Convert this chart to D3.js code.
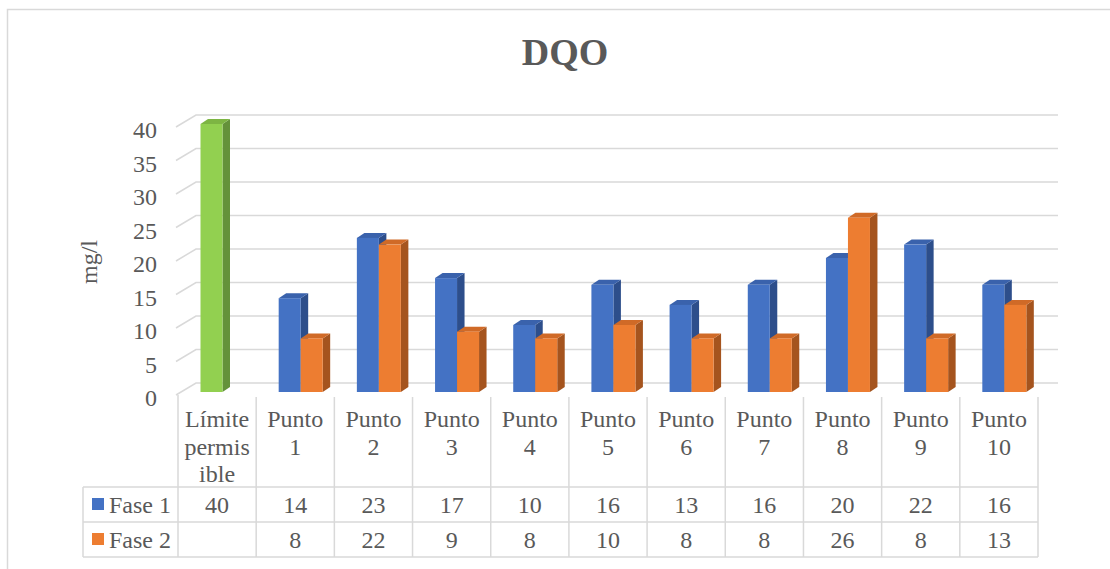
<!DOCTYPE html>
<html>
<head>
<meta charset="utf-8">
<script src="https://cdn.jsdelivr.net/npm/d3@7"></script>
<style>
  body { margin: 0; background: #fff; }
  svg text { font-family: "Liberation Serif", "Times New Roman", Times, serif; fill: #595959; }
</style>
</head>
<body>
<svg class="chart" font-family="Liberation Serif, Times New Roman, serif"></svg>
<script>
const width = 1110
const height = 569

const categories = ['Límite permisible', 'Punto 1', 'Punto 2', 'Punto 3', 'Punto 4', 'Punto 5',
  'Punto 6', 'Punto 7', 'Punto 8', 'Punto 9', 'Punto 10']
const categoryLines = [['Límite', 'permis', 'ible'], ['Punto', '1'], ['Punto', '2'], ['Punto', '3'],
  ['Punto', '4'], ['Punto', '5'], ['Punto', '6'], ['Punto', '7'], ['Punto', '8'], ['Punto', '9'], ['Punto', '10']]
const seriesNames = ['Fase 1', 'Fase 2']
const fase1 = [40, 14, 23, 17, 10, 16, 13, 16, 20, 22, 16]
const fase2 = [null, 8, 22, 9, 8, 10, 8, 8, 26, 8, 13]
const yTicks = [0, 5, 10, 15, 20, 25, 30, 35, 40]

const faces = {
  'Fase 1': { front: '#4472C4', top: '#3A62AC', side: '#2D4E8B' },
  'Fase 2': { front: '#ED7D31', top: '#D06A27', side: '#A5541E' },
  limit: { front: '#92D050', top: '#7DB543', side: '#64923A' }
}

const grid = '#d9d9d9'
const wall = { dx: 20, dy: 12 }
const barDepth = { dx: 7.5, dy: 5 }
const fontSize = 24

const x = d3.scaleBand().domain(categories).range([178, 1038])
const xs = d3.scaleBand().domain(seriesNames).range([22.5, 66.5])
const y = d3.scaleLinear().domain([0, 40]).range([395, 127])
const barY = v => y(v) - 3

const svg = d3.select('.chart').attr('width', width).attr('height', height)

// chart border
svg.append('path')
  .attr('d', `M7.5,${height}V9.5H${width}`)
  .attr('fill', 'none').attr('stroke', grid).attr('stroke-width', 1.5)

svg.append('text')
  .attr('x', 565).attr('y', 65)
  .attr('text-anchor', 'middle')
  .attr('font-size', 38).attr('font-weight', 'bold')
  .text('DQO')

// walls: side diagonals + back gridlines
const g = svg.append('g').attr('stroke', grid).attr('stroke-width', 1.5).attr('fill', 'none')
g.selectAll('path')
  .data(yTicks)
  .join('path')
  .attr('d', d => `M${x.range()[0] - 2},${y(d)}L${x.range()[0] + wall.dx - 2},${y(d) - wall.dy}H${x.range()[1] + wall.dx}`)

svg.append('g')
  .selectAll('text')
  .data(yTicks)
  .join('text')
  .attr('x', 157).attr('y', d => y(d) + 3)
  .attr('dy', '0.35em')
  .attr('text-anchor', 'end')
  .attr('font-size', fontSize)
  .text(d => d)

svg.append('text')
  .attr('transform', 'translate(89,262) rotate(-90)')
  .attr('dy', '0.35em')
  .attr('text-anchor', 'middle')
  .attr('font-size', fontSize)
  .text('mg/l')

// bars
const bars = []
categories.forEach((c, i) => {
  [fase1[i], fase2[i]].forEach((v, s) => {
    if (v == null) return
    bars.push({ cat: c, series: seriesNames[s], value: v, style: i === 0 ? faces.limit : faces[seriesNames[s]] })
  })
})

const bw = xs.bandwidth()
const bar = svg.append('g')
  .selectAll('g')
  .data(bars)
  .join('g')
  .attr('transform', d => `translate(${x(d.cat) + xs(d.series)},0)`)

bar.append('path')
  .attr('fill', d => d.style.side)
  .attr('d', d => {
    const t = barY(d.value), b = barY(0)
    return `M${bw},${t}L${bw + barDepth.dx},${t - barDepth.dy}V${b - barDepth.dy}L${bw},${b}Z`
  })
bar.append('path')
  .attr('fill', d => d.style.top)
  .attr('d', d => {
    const t = barY(d.value)
    return `M0,${t}L${barDepth.dx},${t - barDepth.dy}H${bw + barDepth.dx}L${bw},${t}Z`
  })
bar.append('rect')
  .attr('fill', d => d.style.front)
  .attr('y', d => barY(d.value))
  .attr('width', bw)
  .attr('height', d => barY(0) - barY(d.value))

// data table
const rowTop = [487, 522, 557]
const legendLeft = 83
const table = svg.append('g').attr('stroke', grid).attr('stroke-width', 1.5)
rowTop.forEach(r => {
  table.append('line').attr('x1', legendLeft).attr('x2', x.range()[1]).attr('y1', r).attr('y2', r)
})
table.append('line').attr('x1', legendLeft).attr('x2', legendLeft).attr('y1', rowTop[0]).attr('y2', rowTop[2])
table.append('line').attr('x1', x.range()[0]).attr('x2', x.range()[0]).attr('y1', 395).attr('y2', rowTop[2])
table.selectAll('.col')
  .data(categories)
  .join('line')
  .attr('x1', d => x(d) + x.bandwidth()).attr('x2', d => x(d) + x.bandwidth())
  .attr('y1', 397).attr('y2', rowTop[2])

const header = svg.append('g')
  .selectAll('text')
  .data(categories)
  .join('text')
  .attr('text-anchor', 'middle')
  .attr('font-size', fontSize)
header.selectAll('tspan')
  .data((d, i) => categoryLines[i].map(l => ({ l, c: d })))
  .join('tspan')
  .attr('x', d => x(d.c) + x.bandwidth() / 2)
  .attr('y', (d, j) => 427 + j * 27.5)
  .text(d => d.l)

const rows = [fase1, fase2]
rows.forEach((vals, r) => {
  const baseY = rowTop[r] + 26
  svg.append('rect')
    .attr('x', 92).attr('y', rowTop[r] + 11)
    .attr('width', 12).attr('height', 12)
    .attr('fill', faces[seriesNames[r]].front)
  svg.append('text')
    .attr('x', 109).attr('y', baseY)
    .attr('font-size', fontSize)
    .text(seriesNames[r])
  svg.append('g')
    .selectAll('text')
    .data(categories)
    .join('text')
    .attr('x', d => x(d) + x.bandwidth() / 2)
    .attr('y', baseY)
    .attr('text-anchor', 'middle')
    .attr('font-size', fontSize)
    .text((d, i) => vals[i] == null ? '' : vals[i])
})
</script>
</body>
</html>
